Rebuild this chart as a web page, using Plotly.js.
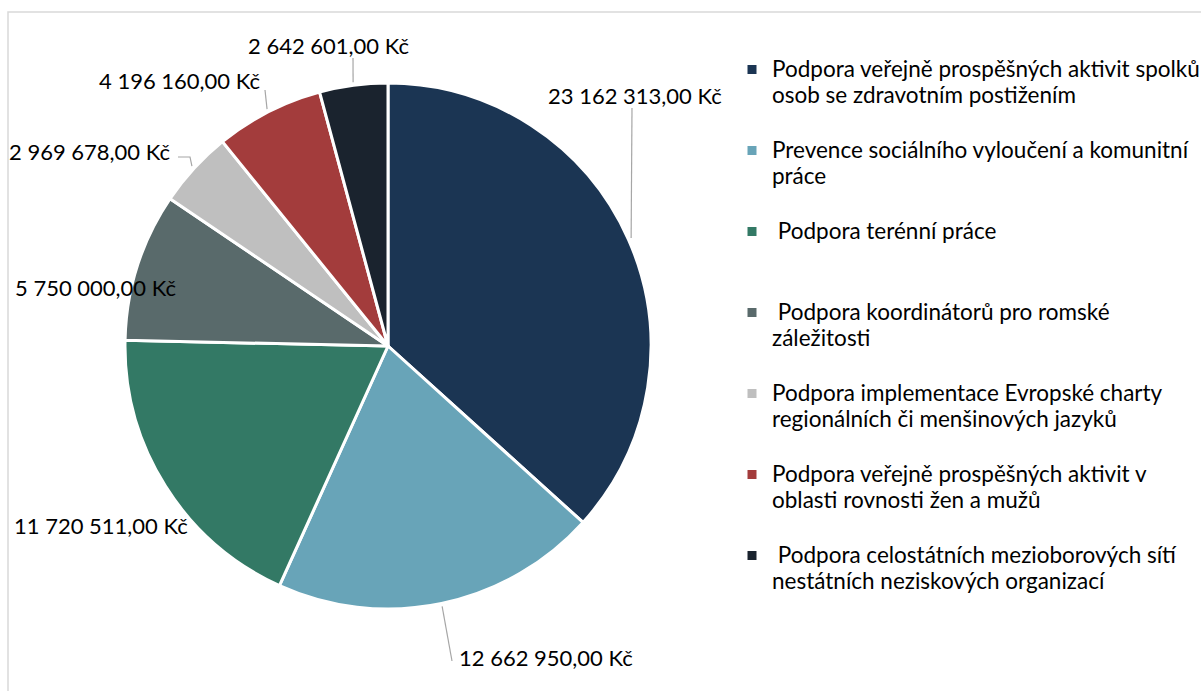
<!DOCTYPE html>
<html><head><meta charset="utf-8">
<script src="https://cdn.plot.ly/plotly-3.0.1.min.js"></script>
<style>html,body{margin:0;padding:0;background:#fff}#chart{width:1201px;height:691px}</style>
</head><body><div id="chart"></div>
<script>
// ---- data ----
const categories = [
  "Podpora veřejně prospěšných aktivit spolků osob se zdravotním postižením",
  "Prevence sociálního vyloučení a komunitní práce",
  " Podpora terénní práce",
  " Podpora koordinátorů pro romské záležitosti",
  "Podpora implementace Evropské charty regionálních či menšinových jazyků",
  "Podpora veřejně prospěšných aktivit v oblasti rovnosti žen a mužů",
  " Podpora celostátních mezioborových sítí nestátních neziskových organizací"
];
const amounts = [23162313, 12662950, 11720511, 5750000, 2969678, 4196160, 2642601];
const currencySuffix = ",00 Kč";

// ---- styles / layout ----
const sliceColors = ["#1b3553", "#68a4b8", "#337965", "#596a6b", "#bfbfbf", "#a33c3c", "#1a232e"];
const W = 1201, H = 691;
const cx = 388, cy = 346, R = 263;
const legendTextSize = 22.5;
// label placements in pixels (text anchor point, leader elbows from text side)
const labelPlacement = [
  {tx: 635, ty: 95,  xa: "center", leader: [[632, 108]]},
  {tx: 457, ty: 657, xa: "left",   leader: [[452, 661]]},
  {tx: 101, ty: 525, xa: "center", leader: null},
  {tx: 95,  ty: 287, xa: "center", leader: null},
  {tx: 172, ty: 151, xa: "right",  leader: [[178, 157], [190, 157]]},
  {tx: 262, ty: 80,  xa: "right",  leader: [[265, 90]]},
  {tx: 328, ty: 45,  xa: "center", leader: [[353, 58]]}
];

function fmt(n) {
  return Math.round(n).toString().replace(/\B(?=(\d{3})+(?!\d))/g, " ") + currencySuffix;
}
function wrap(text, max) {
  const lead = text.startsWith(" ");
  const words = text.trim().split(" ");
  const lines = []; let cur = "";
  words.forEach(w => {
    if (cur && (cur + " " + w).length > max) { lines.push(cur); cur = w; }
    else cur = cur ? cur + " " + w : w;
  });
  if (cur) lines.push(cur);
  if (lead) lines[0] = "\u00a0" + lines[0];
  const out = lines.map(l => '<span style="font-size:' + legendTextSize + 'px">' + l + '</span>');
  while (out.length < 2) out.push(" ");
  out.push(" ");
  return out.join("<br>");
}
const px = x => x / W;
const py = y => 1 - y / H;

const total = amounts.reduce((a, b) => a + b, 0);
let cum = 0;
const annotations = [];
const shapes = [];
amounts.forEach((v, i) => {
  const mid = (cum + v / 2) / total * 2 * Math.PI;
  cum += v;
  const ex = cx + (R + 3) * Math.sin(mid);
  const ey = cy - (R + 3) * Math.cos(mid);
  const p = labelPlacement[i];
  annotations.push({
    xref: "paper", yref: "paper", x: px(p.tx), y: py(p.ty),
    xanchor: p.xa, yanchor: "middle", showarrow: false,
    text: fmt(v), font: {family: "Lato, sans-serif", size: 22, color: "#000"}
  });
  if (p.leader) {
    const pts = p.leader.concat([[ex, ey]]);
    const path = pts.map((q, k) => (k ? "L" : "M") + px(q[0]) + "," + py(q[1])).join(" ");
    shapes.push({type: "path", xref: "paper", yref: "paper", path: path,
      line: {color: "#a6a6a6", width: 1.2}});
  }
});
shapes.push({type: "rect", xref: "paper", yref: "paper", x0: px(8), x1: 1.02, y0: -0.05, y1: py(12),
  line: {color: "#d9d9d9", width: 1.5}, fillcolor: "rgba(0,0,0,0)", layer: "below"});

const trace = {
  type: "pie",
  labels: categories.map(c => wrap(c, 42)),
  values: amounts,
  sort: false,
  direction: "clockwise",
  rotation: 0,
  textinfo: "none",
  hoverinfo: "label+value",
  marker: {colors: sliceColors, line: {color: "#ffffff", width: 3}},
  domain: {x: [px(cx - R), px(cx + R)], y: [py(cy + R), py(cy - R)]},
  showlegend: true
};

const layout = {
  width: W, height: H,
  margin: {l: 0, r: 0, t: 0, b: 0, autoexpand: false},
  paper_bgcolor: "#ffffff",
  font: {family: "Lato, sans-serif", color: "#000"},
  showlegend: true,
  legend: {
    x: px(732), xanchor: "left", y: py(50), yanchor: "top",
    valign: "top", bgcolor: "rgba(0,0,0,0)",
    font: {family: "Lato, sans-serif", size: 20, color: "#000"}
  },
  annotations: annotations,
  shapes: shapes
};

Plotly.newPlot("chart", [trace], layout, {displayModeBar: false, staticPlot: true});
</script>
</body></html>
